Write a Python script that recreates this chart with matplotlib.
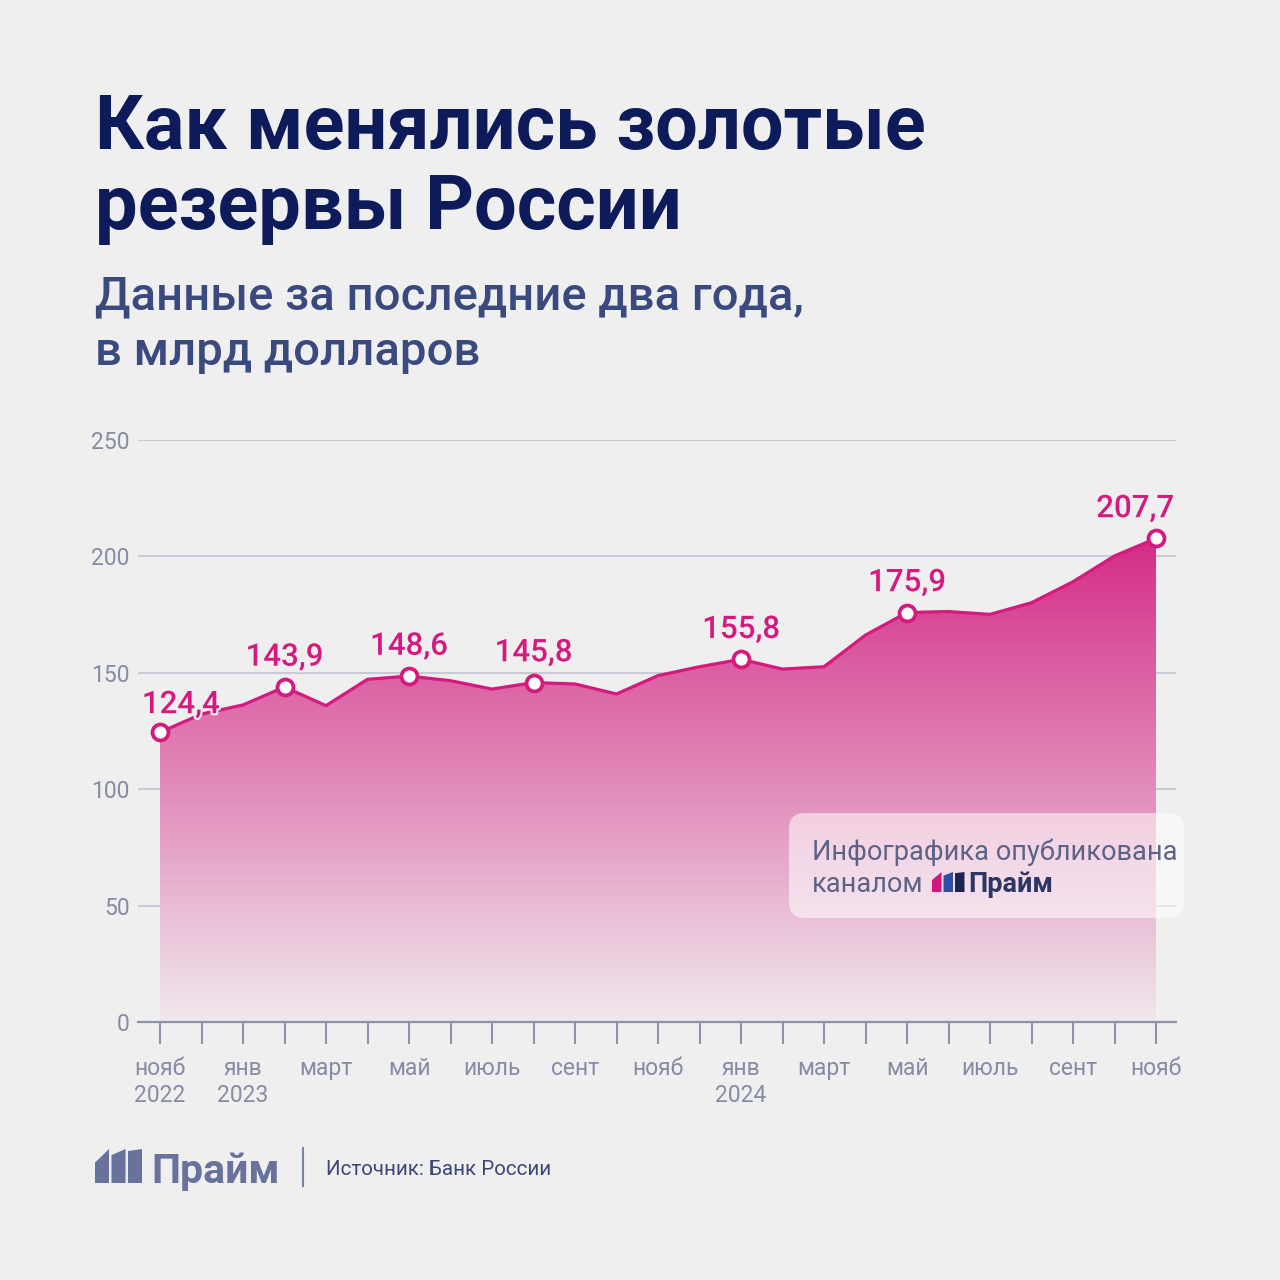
import numpy as np
import matplotlib.pyplot as plt
import matplotlib.patheffects as pe
from matplotlib.colors import LinearSegmentedColormap
from matplotlib.patches import FancyBboxPatch, Polygon

plt.rcParams["font.family"] = ["Roboto", "DejaVu Sans"]

W = H = 1280
BG = "#efefef"
PINK = "#d6197f"
NAVY = "#0e1b5a"
GREY = "#868ca3"

# --- data (млрд долл., конец месяца) ---
month_labels = ["нояб\n2022", "", "янв\n2023", "", "март", "", "май", "",
                "июль", "", "сент", "", "нояб", "", "янв\n2024", "", "март",
                "", "май", "", "июль", "", "сент", "", "нояб"]
values = [124.4, 132.3, 136.2, 143.9, 135.9, 147.2, 148.6, 146.6, 143.0,
          145.8, 145.2, 140.9, 148.8, 152.6, 155.8, 151.6, 152.6, 166.2,
          175.9, 176.3, 175.1, 180.1, 189.1, 200.2, 207.7]
labeled = [0, 3, 6, 9, 14, 18, 24]
y_ticks = [0, 50, 100, 150, 200, 250]

x = np.arange(len(values))
v = np.array(values)

fig = plt.figure(figsize=(12.8, 12.8), dpi=100, facecolor=BG)

# chart area in pixel coords
left, right, bottom, top = 138, 1176, 1022, 440
ax = fig.add_axes([left / W, 1 - bottom / H, (right - left) / W, (bottom - top) / H])
ax.set_facecolor("none")
step = (1156 - 160) / 24
ax.set_xlim(-(160 - left) / step, 24 + (right - 1156) / step)
ax.set_ylim(0, 250)

# gradient area
cmap = LinearSegmentedColormap.from_list("g", ["#efe8ec", "#d42a86"])
grad = np.linspace(0, 1, 256).reshape(-1, 1)
im = ax.imshow(grad, extent=[0, 24, 0, 210], origin="lower", aspect="auto",
               cmap=cmap, zorder=1)
poly = Polygon(np.vstack([[0, 0], np.column_stack([x, v]), [24, 0]]),
               closed=True, transform=ax.transData, facecolor="none", edgecolor="none")
ax.add_patch(poly)
im.set_clip_path(poly)

ax.plot(x, v, color=PINK, lw=2.3, zorder=3, solid_joinstyle="round")
ax.plot(x[labeled], v[labeled], "o", ms=11.5, mfc="white", mec=PINK, mew=2.7,
        zorder=4, clip_on=False)

for i in labeled:
    dx = 15 if i == 0 else (-15 if i == 24 else 0)
    dy = 9.5 if i == 0 else 11
    txt = f"{values[i]:.1f}".replace(".", ",")
    ax.annotate(txt, (x[i], v[i]), xytext=(dx, dy), textcoords="offset points",
                ha="center", va="bottom", fontsize=22.5, fontweight="medium",
                color=PINK, zorder=5,
                path_effects=[pe.withStroke(linewidth=3, foreground=BG)])

# axes styling
for s in ["top", "right", "left"]:
    ax.spines[s].set_visible(False)
ax.spines["bottom"].set_color("#8d93aa")
ax.spines["bottom"].set_linewidth(1.6)
ax.spines["bottom"].set_zorder(6)
ax.set_yticks(y_ticks)
ax.set_yticklabels([str(t) for t in y_ticks])
ax.tick_params(axis="y", length=0, pad=6, labelsize=16.5, labelcolor=GREY)
ax.grid(axis="y", color="#c9cad6", lw=1.5, zorder=0)
ax.set_axisbelow(True)
ax.set_xticks(x)
ax.set_xticklabels(month_labels, linespacing=1.25)
ax.tick_params(axis="x", direction="out", length=16, width=1.5, color="#8d93aa",
               pad=9, labelsize=16.5, labelcolor=GREY)

# overlay in pixel coords for texts and logos
ov = fig.add_axes([0, 0, 1, 1], facecolor="none")
ov.set_xlim(0, W)
ov.set_ylim(H, 0)
ov.axis("off")

ov.text(95, 149, "Как менялись золотые", fontsize=54.5, fontweight="bold",
        color=NAVY, va="baseline")
ov.text(95, 229, "резервы России", fontsize=54.5, fontweight="bold",
        color=NAVY, va="baseline")
ov.text(95, 309, "Данные за последние два года,", fontsize=34,
        fontweight="medium", color="#3b4a7e", va="baseline")
ov.text(95, 365, "в млрд долларов", fontsize=34, fontweight="medium",
        color="#3b4a7e", va="baseline")


def logo_bars(x0, y_bot, h, w, gap, colors, z=3):
    drops = [0.4, 0.18, 0.06]
    for k, c in enumerate(colors):
        bx = x0 + k * (w + gap)
        pts = [(bx, y_bot), (bx, y_bot - h * (1 - drops[k])),
               (bx + w, y_bot - h), (bx + w, y_bot)]
        ov.add_patch(Polygon(pts, closed=True, facecolor=c, edgecolor="none",
                             zorder=z))


# watermark box
box = FancyBboxPatch((789, 813), 395, 105, boxstyle="round,pad=0,rounding_size=16",
                     facecolor="white", alpha=0.55, edgecolor="none", zorder=2)
ov.add_patch(box)
ov.text(812, 860, "Инфографика опубликована", fontsize=19.5, color="#5b6387",
        va="baseline", zorder=3)
ov.text(812, 892, "каналом", fontsize=19.5, color="#5b6387", va="baseline", zorder=3)
logo_bars(932, 892, 20, 9.5, 2, ["#d0197c", "#2f4fa0", "#1b2552"])
ov.text(968, 892, "Прайм", fontsize=19.5, fontweight="bold", color="#2b3566",
        va="baseline", zorder=3)

# footer
logo_bars(95, 1183, 34, 14, 2.5, ["#68729c"] * 3)
ov.text(151, 1183, "Прайм", fontsize=29.5, fontweight="bold", color="#68729c",
        va="baseline")
ov.plot([303, 303], [1148, 1186], color="#7a84a8", lw=1.5)
ov.text(326, 1175, "Источник: Банк России", fontsize=14.8, color="#3d4777",
        va="baseline")

fig.savefig("out.png", dpi=100, facecolor=BG)
